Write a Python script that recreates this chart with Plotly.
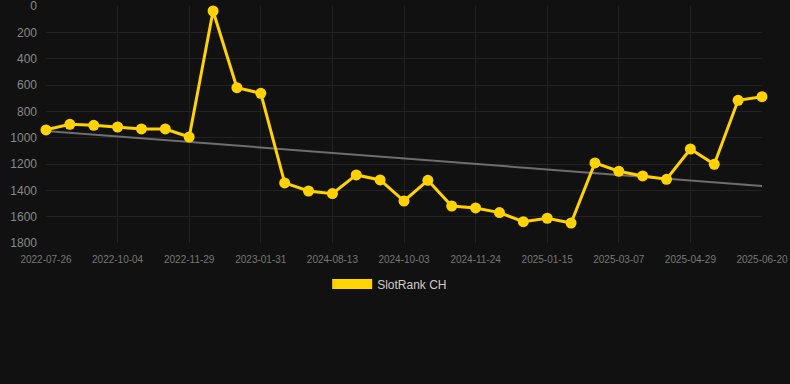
import plotly.graph_objects as go

# Data
tick_labels = ["2022-07-26", "2022-10-04", "2022-11-29", "2023-01-31", "2024-08-13",
               "2024-10-03", "2024-11-24", "2025-01-15", "2025-03-07", "2025-04-29", "2025-06-20"]
rank_values = [941, 899, 906, 919, 934, 934, 995, 38, 620, 663,
               1344, 1405, 1425, 1283, 1321, 1481, 1324, 1519, 1534, 1569,
               1638, 1612, 1648, 1192, 1255, 1291, 1316, 1086, 1202, 716, 689]
trend_start_end = [949, 1367]
series_name = "SlotRank CH"

x_idx = list(range(len(rank_values)))
tick_step = 3
tick_vals = x_idx[::tick_step]

fig = go.Figure()
fig.add_trace(go.Scatter(
    x=[x_idx[0], x_idx[-1]], y=trend_start_end, mode="lines",
    line=dict(color="#6e6e6e", width=2), showlegend=False, hoverinfo="skip",
))
fig.add_trace(go.Scatter(
    x=x_idx, y=rank_values, mode="lines+markers", name=series_name,
    line=dict(color="#FFD200", width=3), marker=dict(color="#FFD200", size=11),
    cliponaxis=False, showlegend=False,
))
# legend swatch
fig.add_trace(go.Scatter(
    x=[None], y=[None], mode="lines", name=series_name,
    line=dict(color="#FFD200", width=12), showlegend=True,
))

fig.update_layout(
    width=790, height=384,
    paper_bgcolor="#111111", plot_bgcolor="#111111",
    margin=dict(l=46, r=28, t=6, b=141, autoexpand=False),
    font=dict(family="Arial, Liberation Sans, sans-serif"),
    showlegend=True,
    legend=dict(orientation="h", x=0.48, xanchor="center",
                y=-0.173, yanchor="middle", font=dict(color="#CCCCCC", size=12),
                itemwidth=40, bgcolor="rgba(0,0,0,0)"),
    xaxis=dict(range=[x_idx[0], x_idx[-1]], tickvals=tick_vals, ticktext=tick_labels,
               showgrid=True, gridcolor="#222222", zeroline=False, showline=False,
               tickfont=dict(color="#777777", size=10), ticklabelstandoff=9, tickangle=0,
               ticklabeloverflow="allow"),
    yaxis=dict(range=[1800, 0], dtick=200, showgrid=True, gridcolor="#222222",
               zeroline=False, showline=False, ticklabeloverflow="allow",
               tickfont=dict(color="#888888", size=12), ticklabelstandoff=8),
)

fig.write_html("out.html", config={"displayModeBar": False},
               post_script="document.body.style.margin='0';")
